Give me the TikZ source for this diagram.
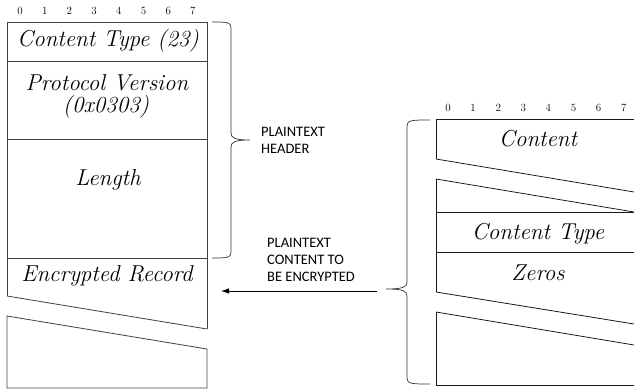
\documentclass[tikz,border=0pt]{standalone}
\usepackage{fontspec}
\newfontfamily\carlitofont{Carlito}
\usetikzlibrary{arrows.meta}
\begin{document}
\begin{tikzpicture}[x=1pt,y=-1pt,
  boxline/.style={line width=0.8pt,draw=black!75},
  rboxline/.style={line width=0.8pt,draw=black!90},
  field/.style={anchor=base,inner sep=0pt,font=\fontsize{23}{27}\selectfont\itshape},
  bitnum/.style={anchor=base,inner sep=0pt,font=\fontsize{11}{13}\selectfont},
  note/.style={anchor=base west,inner sep=0pt,align=left,font=\carlitofont\fontsize{14.5}{17}\selectfont},
  bracestyle/.style={line width=0.7pt,draw=black!80},
]
\useasboundingbox (0,0) rectangle (634,391);
% ---------- left record ----------
\draw[boxline] (7,296) -- (7,22) -- (207,22) -- (207,329);
\draw[boxline] (7,296) -- (207,329);
\draw[boxline] (7,61) -- (207,61);
\draw[boxline] (7,139) -- (207,139);
\draw[boxline] (7,258) -- (207,258);
\draw[boxline] (7,316) -- (207,349) -- (207,388) -- (7,388) -- cycle;
\foreach \i in {0,...,7} { \node[bitnum] (lb\i) at (20+24.7*\i,14) {\i}; }
\node[field] (ct) at (108,46.5) {Content Type (23)};
\node[field] (pv1) at (107,90) {Protocol Version};
\node[field] (pv2) at (106,112) {(0x0303)};
\node[field] (len) at (108,185) {Length};
\node[field] (enc) at (107,281) {Encrypted Record};
% ---------- right record ----------
\draw[rboxline] (436,159) -- (436,119) -- (634,119);
\draw[rboxline] (436,159) -- (634,192);
\draw[rboxline] (436,179) -- (634,212);
\draw[rboxline] (436,179) -- (436,292);
\draw[rboxline] (436,212) -- (634,212);
\draw[rboxline] (436,252) -- (634,252);
\draw[rboxline] (436,292) -- (634,324);
\draw[rboxline] (436,312) -- (634,345);
\draw[rboxline] (436,312) -- (436,385) -- (634,385);
\foreach \i in {0,...,7} { \node[bitnum] (rb\i) at (448+25.1*\i,111.5) {\i}; }
\node[field] (rc) at (538,146.5) {Content};
\node[field] (rct) at (538,239) {Content Type};
\node[field] (rz) at (538,280) {Zeros};
% ---------- braces and notes ----------
\coordinate (lbt) at (212,22);
\coordinate (lbtip) at (250,140);
\coordinate (lbb) at (212,258);
\draw[bracestyle] (lbt) .. controls (227,22) and (231,22) .. (231,28) -- (231,133)
  .. controls (231,138) and (235,140) .. (lbtip)
  .. controls (235,140) and (231,142) .. (231,147) -- (231,252)
  .. controls (231,258) and (227,258) .. (lbb);
\node[note] (hdr) at (261,153) {PLAINTEXT\\HEADER};
\coordinate (rbt) at (430,120);
\coordinate (rbtip) at (386,289);
\coordinate (rbb) at (430,384);
\draw[bracestyle] (rbt) .. controls (412,120) and (407,120) .. (407,126) -- (407,282)
  .. controls (407,287) and (403,289) .. (rbtip)
  .. controls (403,289) and (407,291) .. (407,296) -- (407,378)
  .. controls (407,384) and (412,384) .. (rbb);
\node[note] (ptc) at (267,281.5) {PLAINTEXT\\CONTENT TO\\BE ENCRYPTED};
\coordinate (as) at (377,291);
\coordinate (ae) at (221,291);
\draw[line width=0.8pt,-{Latex[length=8pt,width=5.5pt]}] (as) -- (ae);
\end{tikzpicture}
\end{document}
